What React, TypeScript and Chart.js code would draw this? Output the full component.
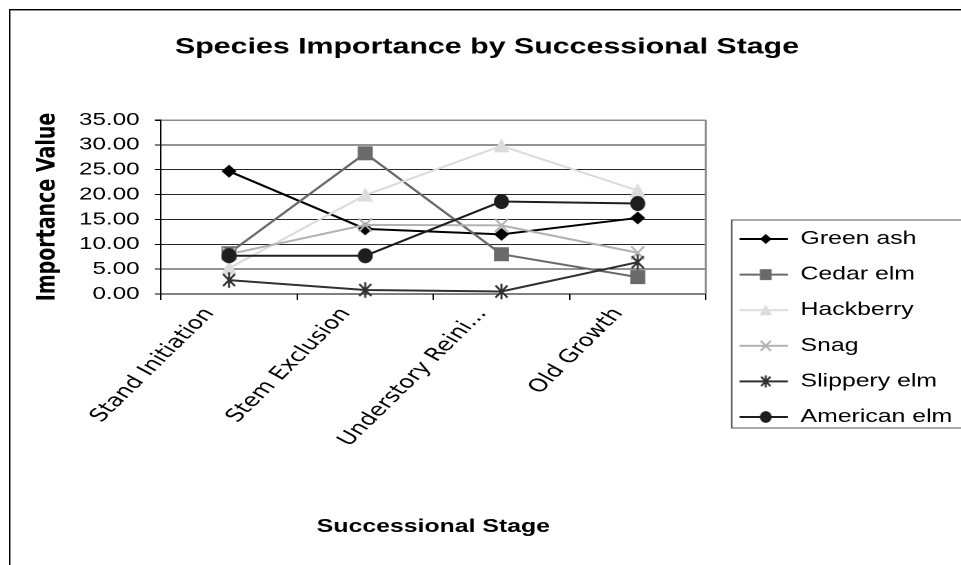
import React, { useEffect, useRef } from "react";
import { Chart, registerables } from "chart.js";

Chart.register(...registerables);

// Successional stages along the x axis
const stages = ["Stand Initiation", "Stem Exclusion", "Understory Reini...", "Old Growth"];

// Importance value of each species at each stage
const greenAsh = [24.7, 13.1, 12.0, 15.3];
const cedarElm = [8.2, 28.3, 8.0, 3.4];
const hackberry = [5.2, 19.9, 29.8, 20.8];
const snag = [8.0, 13.9, 13.8, 8.3];
const slipperyElm = [2.8, 0.8, 0.5, 6.4];
const americanElm = [7.7, 7.7, 18.6, 18.2];

const speciesNames = ["Green ash", "Cedar elm", "Hackberry", "Snag", "Slippery elm", "American elm"];
const speciesValues = [greenAsh, cedarElm, hackberry, snag, slipperyElm, americanElm];

// Value axis
const yMin = 0;
const yMax = 35;
const yStep = 5;

const chartTitle = "Species Importance by Successional Stage";
const xTitle = "Successional Stage";
const yTitle = "Importance Value";

type Marker = "diamond" | "square" | "triangle" | "cross" | "star" | "circle";
const seriesColors = ["#000000", "#6a6a6a", "#dcdcdc", "#b2b2b2", "#303030", "#1e1e1e"];
const seriesMarkers: Marker[] = ["diamond", "square", "triangle", "cross", "star", "circle"];

// The canvas is laid out narrow and widened on screen, which gives the wide lettering.
const STRETCH = 1.38;
const CW = 693;
const CH = 638;
const FONT = "'Liberation Sans', Arial, Helvetica, sans-serif";
const WIDE_FONT = "'DejaVu Sans', 'Liberation Sans', Arial, sans-serif";

const MARK_W = 13; // marker sprite size in canvas units
const MARK_H = 18;
const LEG_W = 42; // legend sprite (line + marker)
const LEG_H = 16;
const LEG_LINE_START = 9.5; // in screen pixels inside the sprite
const LEG_MARK_X = 35.7;

function drawMarker(ctx: CanvasRenderingContext2D, kind: Marker, cx: number, cy: number, color: string, k: number) {
  ctx.save();
  ctx.fillStyle = color;
  ctx.strokeStyle = color;
  ctx.lineWidth = 2;
  ctx.beginPath();
  switch (kind) {
    case "diamond":
      ctx.moveTo(cx, cy - 6.5 * k);
      ctx.lineTo(cx + 7.5 * k, cy);
      ctx.lineTo(cx, cy + 6.5 * k);
      ctx.lineTo(cx - 7.5 * k, cy);
      ctx.closePath();
      ctx.fill();
      break;
    case "square":
      ctx.rect(cx - 7.5 * k, cy - 7 * k, 15 * k, 14 * k);
      ctx.fill();
      break;
    case "triangle":
      ctx.moveTo(cx, cy - 7.5 * k);
      ctx.lineTo(cx + 8 * k, cy + 6.5 * k);
      ctx.lineTo(cx - 8 * k, cy + 6.5 * k);
      ctx.closePath();
      ctx.fill();
      break;
    case "cross": {
      const r = 6.5 * k;
      ctx.moveTo(cx - r, cy - r);
      ctx.lineTo(cx + r, cy + r);
      ctx.moveTo(cx + r, cy - r);
      ctx.lineTo(cx - r, cy + r);
      ctx.stroke();
      break;
    }
    case "star": {
      const r = 6 * k;
      ctx.moveTo(cx - r, cy - r);
      ctx.lineTo(cx + r, cy + r);
      ctx.moveTo(cx + r, cy - r);
      ctx.lineTo(cx - r, cy + r);
      ctx.moveTo(cx, cy - r * 1.3);
      ctx.lineTo(cx, cy + r * 1.3);
      ctx.stroke();
      break;
    }
    case "circle":
      ctx.arc(cx, cy, 7.5 * k, 0, Math.PI * 2);
      ctx.fill();
      break;
  }
  ctx.restore();
}

// Sprite sized wL x hL in canvas units; painting happens in screen pixels.
function makeSurface(wL: number, hL: number, res: number, paint: (ctx: CanvasRenderingContext2D, w: number, h: number) => void) {
  const c = document.createElement("canvas");
  c.width = Math.round(wL * res);
  c.height = Math.round(hL * res);
  const ctx = c.getContext("2d")!;
  ctx.scale(res / STRETCH, res);
  paint(ctx, wL * STRETCH, hL);
  return c;
}

async function toImage(c: HTMLCanvasElement, wL: number, hL: number) {
  const img = new Image();
  img.src = c.toDataURL();
  await img.decode();
  img.width = wL;
  img.height = hL;
  return img;
}

const paintPoint = (i: number) => (ctx: CanvasRenderingContext2D, w: number, h: number) =>
  drawMarker(ctx, seriesMarkers[i], w / 2, h / 2, seriesColors[i], 1);

const paintLegend = (i: number) => (ctx: CanvasRenderingContext2D, w: number, h: number) => {
  ctx.strokeStyle = seriesColors[i];
  ctx.lineWidth = 2;
  ctx.beginPath();
  ctx.moveTo(LEG_LINE_START, h / 2);
  ctx.lineTo(w, h / 2);
  ctx.stroke();
  drawMarker(ctx, seriesMarkers[i], LEG_MARK_X, h / 2, seriesColors[i], 0.78);
};

export default function App() {
  const canvasRef = useRef<HTMLCanvasElement | null>(null);

  useEffect(() => {
    const canvas = canvasRef.current;
    if (!canvas) return;
    let cancelled = false;

    const pointMarks: any[] = speciesNames.map((_, i) => makeSurface(MARK_W, MARK_H, 1, paintPoint(i)));
    const legendMarks: any[] = speciesNames.map((_, i) => makeSurface(LEG_W, LEG_H, 1, paintLegend(i)));

    const framePlugin = {
      id: "frames",
      beforeDatasetsDraw(chart: any) {
        const { ctx, chartArea: a } = chart;
        ctx.save();
        ctx.strokeStyle = "#8a8a8a";
        ctx.lineWidth = 1.5;
        ctx.beginPath();
        ctx.moveTo(a.right, a.top);
        ctx.lineTo(a.right, a.bottom);
        ctx.stroke();
        ctx.restore();
      },
      afterDraw(chart: any) {
        const hb = chart.legend?.legendHitBoxes;
        if (!hb || !hb.length) return;
        const first = hb[0];
        const last = hb[hb.length - 1];
        const left = first.left + 1.2;
        const top = first.top - 10;
        const bottom = last.top + last.height + 2;
        const ctx = chart.ctx;
        ctx.save();
        ctx.strokeStyle = "#555";
        ctx.lineWidth = 1;
        ctx.strokeRect(left, top, chart.width + 10 - left, bottom - top);
        ctx.restore();
      },
    };

    const chart = new Chart(canvas, {
      type: "line",
      data: {
        labels: stages,
        datasets: speciesNames.map((name, i) => ({
          label: name,
          data: speciesValues[i],
          borderColor: seriesColors[i],
          backgroundColor: seriesColors[i],
          borderWidth: 2,
          pointStyle: pointMarks[i],
          pointRadius: 6,
          tension: 0,
          order: speciesNames.length - i,
          clip: false as any,
        })),
      },
      options: {
        responsive: false,
        animation: false,
        devicePixelRatio: 2,
        events: [],
        layout: { padding: 0 },
        plugins: {
          title: {
            display: true,
            text: chartTitle,
            color: "#000",
            font: { family: FONT, size: 22, weight: "bold" },
            padding: { top: 25.3, bottom: 59.3 },
          },
          legend: {
            position: "right",
            align: "center",
            maxWidth: 187.9,
            labels: {
              usePointStyle: true,
              pointStyleWidth: LEG_W,
              padding: 17.6,
              color: "#000",
              font: { family: FONT, size: 18 },
              generateLabels: (c: any) =>
                c.data.datasets.map((ds: any, i: number) => ({
                  text: ds.label,
                  pointStyle: legendMarks[i],
                  fillStyle: "transparent",
                  strokeStyle: "transparent",
                  lineWidth: 0,
                  hidden: false,
                  datasetIndex: i,
                  fontColor: "#000",
                })),
            },
          },
          tooltip: { enabled: false },
        },
        scales: {
          x: {
            offset: true,
            grid: {
              display: true,
              drawOnChartArea: false,
              drawTicks: true,
              tickLength: 6,
              offset: true,
              color: "#000",
              tickColor: "#000",
            },
            border: { display: true, color: "#000", width: 1 },
            ticks: {
              autoSkip: false,
              minRotation: 53.13,
              maxRotation: 53.13,
              padding: 4,
              labelOffset: -14,
              color: "#000",
              font: { family: WIDE_FONT, size: 18 },
            },
            title: {
              display: true,
              text: xTitle,
              color: "#000",
              font: { family: FONT, size: 18, weight: "bold" },
              padding: { top: 4, bottom: 109.2 },
            },
            afterFit: (s: any) => {
              s.height = 353;
            },
          },
          y: {
            min: yMin,
            max: yMax,
            ticks: {
              stepSize: yStep,
              padding: 11.2,
              color: "#000",
              font: { family: FONT, size: 17.5 },
              callback: (v: any) => Number(v).toFixed(2),
            },
            grid: {
              color: (ctx: any) => (ctx.tick && ctx.tick.value === yMax ? "#8a8a8a" : "#262626"),
              lineWidth: (ctx: any) => (ctx.tick && ctx.tick.value === yMax ? 1.5 : 1),
              tickLength: 4.3,
              tickColor: "#000",
            },
            border: { display: true, color: "#000", width: 1 },
            title: {
              display: true,
              text: yTitle,
              color: "#000",
              font: { family: WIDE_FONT, size: 19, weight: "bold" },
              padding: { top: 16.5, bottom: 0 },
            },
            afterFit: (s: any) => {
              s.width = 110.1;
            },
          },
        },
      } as any,
      plugins: [framePlugin],
    });

    // Swap in sharper sprites once they are decoded.
    (async () => {
      try {
        const pts = await Promise.all(speciesNames.map((_, i) => toImage(makeSurface(MARK_W, MARK_H, 4, paintPoint(i)), MARK_W, MARK_H)));
        const legs = await Promise.all(speciesNames.map((_, i) => toImage(makeSurface(LEG_W, LEG_H, 4, paintLegend(i)), LEG_W, LEG_H)));
        if (cancelled) return;
        pts.forEach((img, i) => {
          (chart.data.datasets[i] as any).pointStyle = img;
        });
        legs.forEach((img, i) => {
          legendMarks[i] = img;
        });
        chart.update();
      } catch (e) {
        /* keep the canvas sprites */
      }
    })();

    return () => {
      cancelled = true;
      chart.destroy();
    };
  }, []);

  return (
    <div style={{ position: "fixed", left: 0, top: 0, width: 961, height: 565, overflow: "hidden", background: "#fff" }}>
      <div
        style={{
          position: "absolute",
          left: 9,
          top: 9,
          width: 1000,
          height: 1000,
          borderLeft: "1px solid #000",
          borderTop: "1px solid #000",
          boxShadow: "inset 1px 1px 0 #8c8c8c",
        }}
      />
      <canvas
        ref={canvasRef}
        width={CW}
        height={CH}
        style={{ position: "absolute", left: 9, top: 9, width: CW * STRETCH, height: CH }}
      />
    </div>
  );
}
